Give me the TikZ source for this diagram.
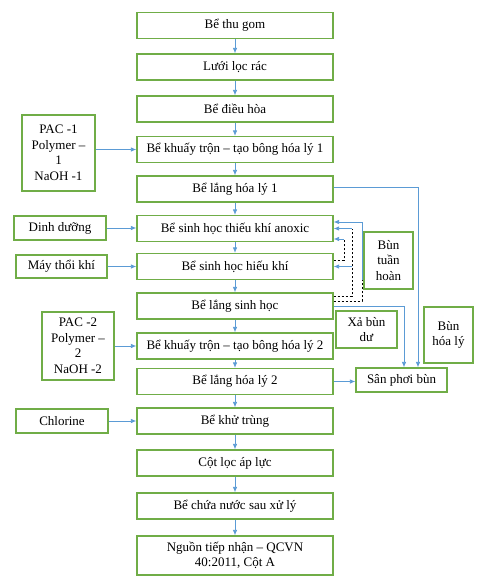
\documentclass[tikz,border=0pt]{standalone}
\usepackage{fontspec}
\setmainfont{Liberation Serif}
\usetikzlibrary{arrows.meta}
\definecolor{boxGreen}{HTML}{70AD47}
\definecolor{lineBlue}{HTML}{5B9BD5}
\newcommand{\mainBox}[3]{%%
  \node[boxStyle,minimum width=\mainwidth pt,minimum height=26pt] (#1) at (\xmain,#2) {#3};
}
\newcommand{\sideBox}[6]{%%
  \node[boxStyle,minimum width=#4pt,minimum height=#5pt] (#1) at (#2,#3) {#6};
}

\begin{document}
\begin{tikzpicture}[%%
  x=1pt,y=-1pt,%%
  boxStyle/.style={draw=boxGreen,line width=1.2pt,inner sep=1pt,align=center,%%
    font=\fontsize{13}{15.5}\selectfont},%%
  flowStyle/.style={-{Latex[length=5.5pt,width=4.5pt]},draw=lineBlue,line width=0.8pt},%%
  dashStyle/.style={draw=black,line width=0.8pt,dash pattern=on 2.5pt off 1.5pt}%%
]
%%
%%
\pgfmathsetmacro{\xmain}{235}
\pgfmathsetmacro{\mainwidth}{196}
\useasboundingbox (0,0) rectangle (481,578);
%%
%% The main line of the plant.
\mainBox{gom}{25.5}{Bể thu gom}
\mainBox{luoi}{67}{Lưới lọc rác}
\mainBox{dieuhoa}{109}{Bể điều hòa}
\mainBox{khuay1}{149.5}{Bể khuấy trộn – tạo bông hóa lý 1}
\mainBox{lang1}{189}{Bể lắng hóa lý 1}
\mainBox{anoxic}{228.5}{Bể sinh học thiếu khí anoxic}
\mainBox{hieukhi}{266.5}{Bể sinh học hiếu khí}
\mainBox{langsh}{306}{Bể lắng sinh học}
\mainBox{khuay2}{346}{Bể khuấy trộn – tạo bông hóa lý 2}
\mainBox{lang2}{381.5}{Bể lắng hóa lý 2}
\mainBox{khutrung}{421}{Bể khử trùng}
\mainBox{cotloc}{463}{Cột lọc áp lực}
\mainBox{chua}{506}{Bể chứa nước sau xử lý}
\node[boxStyle,minimum width=\mainwidth pt,minimum height=39pt] (nguon) at (\xmain,555.5)
  {Nguồn tiếp nhận – QCVN\\40:2011, Cột A};
%%
%% Chemicals and air on the left.
\sideBox{pac1}{58.5}{153}{73}{76}{PAC -1\\Polymer –\\1\\NaOH -1}
\sideBox{dinhduong}{60}{228}{92}{24}{Dinh dưỡng}
\sideBox{maythoi}{61.5}{266.5}{91}{23}{Máy thổi khí}
\sideBox{pac2}{78}{346}{72}{68}{PAC -2\\Polymer –\\2\\NaOH -2}
\sideBox{chlorine}{62}{421}{92}{24}{Chlorine}
%%
%% Sludge on the right.
\sideBox{tuanhoan}{388.5}{260.5}{49}{57}{Bùn\\tuần\\hoàn}
\sideBox{xabun}{366.5}{329.5}{61}{37}{Xả bùn\\dư}
\sideBox{bunhoaly}{448.5}{335}{49}{56}{Bùn\\hóa lý}
\sideBox{sanphoi}{401.5}{380}{91}{24}{Sân phơi bùn}
%%
\coordinate (outerX) at (362,0);
\coordinate (innerX) at (352,0);
\coordinate (shortX) at (344,0);
\coordinate (hoalyX) at (418,0);
\coordinate (sinhhocX) at (404,0);
\coordinate (anoxLow) at ([yshift=-10.5pt]anoxic.east);
\coordinate (anoxHigh) at ([yshift=6.5pt]anoxic.east);
%%
%% Water flow.
\foreach \a/\b in {gom/luoi,luoi/dieuhoa,dieuhoa/khuay1,khuay1/lang1,lang1/anoxic,%%
  anoxic/hieukhi,hieukhi/langsh,langsh/khuay2,khuay2/lang2,lang2/khutrung,%%
  khutrung/cotloc,cotloc/chua,chua/nguon}
  \draw[flowStyle] (\a) -- (\b);
\draw[flowStyle] (pac1.east |- khuay1) -- (khuay1.west);
\draw[flowStyle] (dinhduong) -- (anoxic.west |- dinhduong);
\draw[flowStyle] (maythoi) -- (hieukhi.west |- maythoi);
\draw[flowStyle] (pac2.east |- khuay2) -- (khuay2.west);
\draw[flowStyle] (chlorine) -- (khutrung.west |- chlorine);
%%
%% Return sludge.
\draw[dashStyle] ([yshift=5pt]langsh.east) -| (outerX |- hieukhi.south);
\draw[flowStyle] (outerX |- hieukhi.south) |- (anoxHigh);
\draw[dashStyle] ([yshift=10pt]langsh.east) -| (innerX |- anoxic.east);
\draw[flowStyle] (innerX |- anoxic.east) -- (anoxic.east);
\draw[flowStyle] (innerX |- hieukhi.east) -- (hieukhi.east);
\draw[dashStyle] ([yshift=6.5pt]hieukhi.east) -| (shortX |- anoxLow);
\draw[flowStyle] (shortX |- anoxLow) -- (anoxLow);
%%
%% Sludge to the drying bed.
\draw[flowStyle] ([yshift=2pt]lang1.east) -| (hoalyX |- sanphoi.north);
\draw[flowStyle] (langsh.east) -| (sinhhocX |- sanphoi.north);
\draw[flowStyle] (lang2.east) -- (sanphoi.west |- lang2.east);
\end{tikzpicture}
\end{document}
